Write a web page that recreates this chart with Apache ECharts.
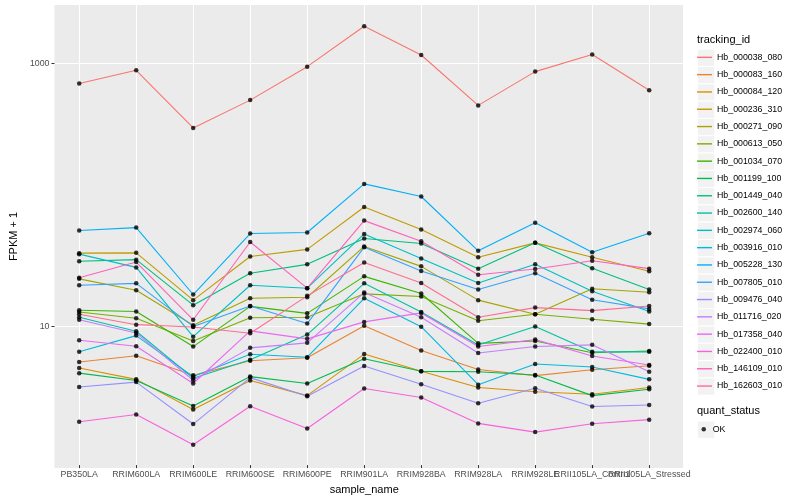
<!DOCTYPE html>
<html>
<head>
<meta charset="utf-8">
<script src="https://cdn.jsdelivr.net/npm/echarts@6/dist/echarts.min.js"></script>
<style>html,body{margin:0;padding:0;background:#fff}#c{width:800px;height:500px}</style>
</head>
<body>
<div id="c"></div>
<script>
// ---- data (FPKM + 1) ----
const samples = ['PB350LA','RRIM600LA','RRIM600LE','RRIM600SE','RRIM600PE','RRIM901LA','RRIM928BA','RRIM928LA','RRIM928LE','RRII105LA_Control','RRII105LA_Stressed'];
const trackingIds = ['Hb_000038_080','Hb_000083_160','Hb_000084_120','Hb_000236_310','Hb_000271_090','Hb_000613_050','Hb_001034_070','Hb_001199_100','Hb_001449_040','Hb_002600_140','Hb_002974_060','Hb_003916_010','Hb_005228_130','Hb_007805_010','Hb_009476_040','Hb_011716_020','Hb_017358_040','Hb_022400_010','Hb_146109_010','Hb_162603_010'];
const palette = ['#F8766D','#EA8331','#D89000','#C09B00','#A3A500','#7CAE00','#39B600','#00BB4E','#00BF7D','#00C1A3','#00BFC4','#00BAE0','#00B0F6','#35A2FF','#9590FF','#C77CFF','#E76BF3','#FA62DB','#FF62BC','#FF6C91'];

const hb_000038_080 = [696, 879, 319, 520, 937, 1909, 1150, 474, 859, 1162, 619];
const hb_000083_160 = [5.18, 5.78, 4.10, 5.30, 5.59, 9.83, 6.35, 4.55, 4.08, 4.53, 4.86];
const hb_000084_120 = [4.67, 3.82, 2.25, 3.74, 2.87, 5.96, 4.40, 3.31, 3.07, 2.94, 3.31];
const hb_000236_310 = [35.2, 35.4, 15.4, 33.2, 37.6, 79.3, 53.3, 32.8, 42.2, 32.8, 25.6];
const hb_000271_090 = [22.4, 18.3, 9.9, 15.9, 16.2, 39.6, 27.9, 15.4, 12.0, 18.8, 17.7];
const hb_000613_050 = [12.5, 11.2, 7.5, 11.3, 11.4, 17.2, 16.4, 10.7, 12.0, 11.0, 10.1];
const hb_001034_070 = [12.9, 12.6, 6.8, 13.8, 12.2, 23.4, 17.3, 7.2, 7.5, 6.1, 6.3];
const hb_001199_100 = [4.26, 3.74, 2.39, 4.01, 3.55, 5.49, 4.40, 4.37, 4.13, 2.87, 3.21];
const hb_001449_040 = [30.5, 31.4, 14.1, 24.7, 28.9, 45.5, 41.7, 26.8, 42.2, 27.0, 18.6];
const hb_002600_140 = [11.4, 8.9, 3.9, 5.4, 8.4, 20.7, 12.5, 7.0, 9.7, 6.2, 6.2];
const hb_002974_060 = [34.6, 27.4, 8.1, 20.0, 19.0, 49.4, 32.1, 20.8, 29.0, 18.0, 12.6];
const hb_003916_010 = [6.21, 8.25, 4.01, 5.94, 5.64, 15.9, 9.66, 3.48, 5.00, 4.75, 3.82];
const hb_005228_130 = [52.4, 55.2, 17.0, 49.7, 50.6, 119.1, 95.4, 36.7, 60.2, 35.8, 50.0];
const hb_007805_010 = [20.0, 20.7, 9.7, 13.9, 10.2, 39.1, 25.7, 18.6, 24.7, 15.5, 13.2];
const hb_009476_040 = [3.34, 3.64, 1.74, 3.94, 2.84, 4.83, 3.50, 2.51, 3.27, 2.37, 2.43];
const hb_011716_020 = [10.9, 8.65, 3.76, 6.65, 7.26, 17.6, 11.4, 6.07, 6.81, 7.01, 4.37];
const hb_017358_040 = [7.61, 6.85, 3.55, 8.96, 7.79, 10.5, 12.3, 6.81, 7.69, 5.76, 4.92];
const hb_022400_010 = [1.81, 2.06, 1.21, 2.38, 1.61, 3.25, 2.78, 1.76, 1.51, 1.75, 1.88];
const hb_146109_010 = [22.8, 30.1, 10.9, 42.8, 19.0, 62.4, 43.4, 24.1, 26.6, 30.8, 26.8];
const hb_162603_010 = [12.0, 10.0, 9.6, 8.6, 16.6, 29.9, 20.8, 11.4, 13.5, 12.8, 13.9];

const seriesValues = [hb_000038_080, hb_000083_160, hb_000084_120, hb_000236_310, hb_000271_090,
  hb_000613_050, hb_001034_070, hb_001199_100, hb_001449_040, hb_002600_140, hb_002974_060,
  hb_003916_010, hb_005228_130, hb_007805_010, hb_009476_040, hb_011716_020, hb_017358_040,
  hb_022400_010, hb_146109_010, hb_162603_010];
const yLabelValues = [10, 1000];
const quantStatus = 'OK';

// ---- chart ----
const FONT = "'Liberation Sans', Arial, Helvetica, sans-serif";
const yMin = 0.845, yMax = 2773;
const chart = echarts.init(document.getElementById('c'), null, {renderer: 'canvas'});

const lineSeries = trackingIds.map((id, i) => ({
  name: id, type: 'line', xAxisIndex: 1, yAxisIndex: 1,
  data: seriesValues[i], showSymbol: false, symbol: 'none',
  lineStyle: {width: 1.1, color: palette[i]}, itemStyle: {color: palette[i]},
  z: 2, silent: true
}));
const points = [];
seriesValues.forEach(vals => vals.forEach((v, j) => points.push([j, v])));

const keyPitch = 17.3, keyTop = 48.7;
const graphics = [];
trackingIds.forEach((id, k) => graphics.push({
  type: 'rect', left: 697, top: keyTop + k * keyPitch, z: -1,
  shape: {width: 17.3, height: 17.3}, style: {fill: '#F2F2F2', stroke: '#FFFFFF', lineWidth: 1}
}));
graphics.push({type: 'rect', left: 697, top: 420.5, z: -1, shape: {width: 17.3, height: 17.3},
  style: {fill: '#F2F2F2', stroke: '#FFFFFF', lineWidth: 1}});
graphics.push({type: 'text', left: 697, top: 34, style: {text: 'tracking_id', fill: '#000', font: '11px ' + FONT}});
graphics.push({type: 'text', left: 697, top: 405.5, style: {text: 'quant_status', fill: '#000', font: '11px ' + FONT}});

chart.setOption({
  animation: false,
  backgroundColor: '#FFFFFF',
  textStyle: {fontFamily: FONT},
  grid: [
    {left: 45, right: 117, top: 5, bottom: 32, show: true, backgroundColor: '#EBEBEB', borderWidth: 0},
    {left: 79.2, right: 150.8, top: 5, bottom: 32}
  ],
  xAxis: [
    {type: 'value', gridIndex: 0, min: 0, max: 1, show: false},
    {type: 'category', gridIndex: 1, data: samples, boundaryGap: false,
     axisLine: {show: false},
     axisTick: {show: true, length: 3, lineStyle: {color: '#333333', width: 1}},
     axisLabel: {interval: 0, hideOverlap: false, color: '#4D4D4D', fontSize: 8.8, margin: 5, fontFamily: FONT},
     splitLine: {show: true, lineStyle: {color: '#FFFFFF', width: 1.1}},
     name: 'sample_name', nameLocation: 'middle', nameGap: 14,
     nameTextStyle: {color: '#000', fontSize: 11, fontFamily: FONT}}
  ],
  yAxis: [
    {type: 'log', logBase: 10, gridIndex: 0, min: yMin, max: yMax,
     axisLine: {show: false},
     axisTick: {show: true, customValues: yLabelValues, length: 3, lineStyle: {color: '#333333', width: 1}},
     axisLabel: {color: '#4D4D4D', fontSize: 8.8, margin: 5, fontFamily: FONT, customValues: yLabelValues,
       formatter: v => {
         const hit = yLabelValues.find(t => Math.abs(Math.log10(v) - Math.log10(t)) < 1e-6);
         return hit ? String(hit) : '';
       }},
     splitLine: {show: true, lineStyle: {color: '#FFFFFF', width: 1}},
     name: 'FPKM + 1', nameLocation: 'middle', nameGap: 27,
     nameTextStyle: {color: '#000', fontSize: 11, fontFamily: FONT}},
    {type: 'log', logBase: 10, gridIndex: 1, min: yMin, max: yMax, show: false}
  ],
  legend: [
    {data: trackingIds, orient: 'vertical', left: 697, top: keyTop, padding: 0,
     itemWidth: 15, itemHeight: 1.4, itemGap: 0, icon: 'rect', selectedMode: false,
     textStyle: {fontSize: 8.8, color: '#000', lineHeight: keyPitch, height: keyPitch, fontFamily: FONT}},
    {data: [quantStatus], orient: 'vertical', left: 701.5, top: 420.5, padding: 0,
     itemWidth: 8, itemHeight: 4.5, itemGap: 0, icon: 'circle', selectedMode: false,
     textStyle: {fontSize: 8.8, color: '#000', lineHeight: 17.3, height: 17.3, fontFamily: FONT}}
  ],
  graphic: graphics,
  series: lineSeries.concat([{
    name: quantStatus, type: 'scatter', xAxisIndex: 1, yAxisIndex: 1,
    data: points, symbol: 'circle', symbolSize: 4.5,
    itemStyle: {color: '#000000'}, z: 5, silent: true
  }])
});
</script>
</body>
</html>
